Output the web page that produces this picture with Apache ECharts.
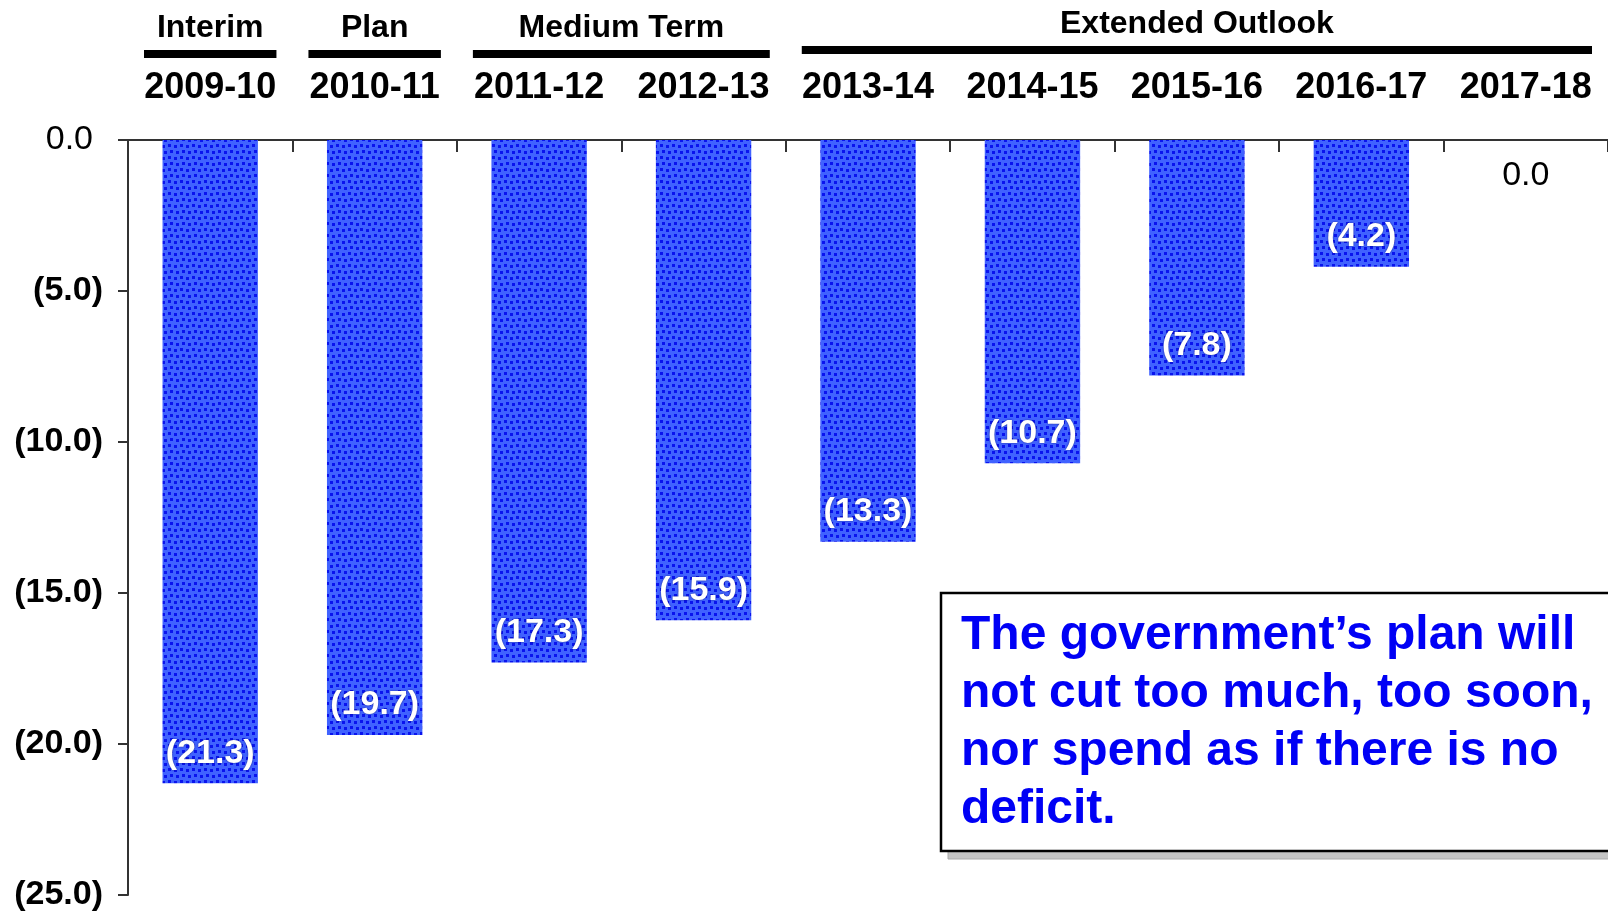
<!DOCTYPE html>
<html>
<head>
<meta charset="utf-8">
<title>Deficit outlook</title>
<script src="https://cdn.jsdelivr.net/npm/echarts@6/dist/echarts.min.js"></script>
<style>
  html, body { margin: 0; padding: 0; background: #fff; }
  #chart { width: 1608px; height: 913px; }
</style>
</head>
<body>
<div id="chart"></div>
<script>
// Fiscal years and the budget balance for each ($ billions, negative = deficit)
const years = ['2009-10', '2010-11', '2011-12', '2012-13', '2013-14', '2014-15', '2015-16', '2016-17', '2017-18'];
const balance = [-21.3, -19.7, -17.3, -15.9, -13.3, -10.7, -7.8, -4.2, 0.0];

// Period headings spanning ranges of years (first and last year index)
const groupNames = ['Interim', 'Plan', 'Medium Term', 'Extended Outlook'];
const groupStart = [0, 1, 2, 4];
const groupEnd = [0, 1, 3, 8];

// Value axis range and step
const yMin = -25;
const yMax = 0;
const yStep = 5;

const noteText = 'The government\u2019s plan will\nnot cut too much, too soon,\nnor spend as if there is no\ndeficit.';

const FONT = '"Liberation Sans", Arial, sans-serif';

// Stippled blue fill for the bars
function stippleTile() {
  const c = document.createElement('canvas');
  c.width = 12; c.height = 12;
  const g = c.getContext('2d');
  g.fillStyle = '#4062ff';
  g.fillRect(0, 0, 12, 12);
  g.fillStyle = '#0a14ee';
  g.fillRect(0, 0, 3, 3);
  g.fillRect(6, 1, 3, 3);
  g.fillRect(2, 6, 3, 3);
  g.fillRect(8, 7, 3, 3);
  return c;
}

function fmtValue(v) {
  if (v === 0) return '0.0';
  return '(' + Math.abs(v).toFixed(1) + ')';
}

const chart = echarts.init(document.getElementById('chart'), null, { renderer: 'canvas' });

const barData = balance.map(function (v) {
  if (v === 0) {
    return {
      value: v,
      label: {
        position: 'bottom',
        distance: 19,
        color: '#000',
        fontWeight: 'normal',
        textShadowBlur: 0
      }
    };
  }
  return v;
});

chart.setOption({
  animation: false,
  backgroundColor: '#fff',
  grid: { left: 128, right: 0, top: 140, bottom: 18, containLabel: false },
  xAxis: {
    type: 'category',
    position: 'top',
    data: years,
    boundaryGap: true,
    axisLine: { show: true, lineStyle: { color: '#333', width: 2 } },
    axisTick: { show: true, inside: true, length: 12, interval: 0, lineStyle: { color: '#333', width: 2 } },
    axisLabel: {
      show: true,
      interval: 0,
      margin: 34,
      color: '#000',
      fontFamily: FONT,
      fontSize: 36,
      fontWeight: 'bold'
    },
    splitLine: { show: false }
  },
  yAxis: {
    type: 'value',
    min: yMin,
    max: yMax,
    interval: yStep,
    axisLine: { show: true, lineStyle: { color: '#333', width: 2 } },
    axisTick: { show: true, length: 10, lineStyle: { color: '#333', width: 2 } },
    splitLine: { show: false },
    axisLabel: {
      margin: 25,
      color: '#000',
      fontFamily: FONT,
      fontSize: 34,
      formatter: function (v) {
        if (v === 0) return '{n|0.0}{s|}';
        return '{b|' + fmtValue(v) + '}';
      },
      rich: {
        n: { fontFamily: FONT, fontSize: 34, fontWeight: 'normal', color: '#000' },
        s: { width: 10 },
        b: { fontFamily: FONT, fontSize: 34, fontWeight: 'bold', color: '#000' }
      }
    }
  },
  series: [{
    type: 'bar',
    data: barData,
    barWidth: '58%',
    itemStyle: {
      color: { image: stippleTile(), repeat: 'repeat' }
    },
    label: {
      show: true,
      position: 'insideBottom',
      distance: 13,
      color: '#fff',
      fontFamily: FONT,
      fontSize: 34,
      fontWeight: 'bold',
      textShadowColor: 'rgba(0,0,60,0.6)',
      textShadowBlur: 2,
      formatter: function (p) { return fmtValue(p.value); }
    }
  }]
});

// Period headings with their underline bars, placed from the category axis
function drawHeadings() {
  const c0 = chart.convertToPixel({ xAxisIndex: 0 }, 0);
  const c1 = chart.convertToPixel({ xAxisIndex: 0 }, 1);
  const band = c1 - c0;
  const inset = 16;
  const elements = [];
  groupNames.forEach(function (name, i) {
    const x1 = chart.convertToPixel({ xAxisIndex: 0 }, groupStart[i]) - band / 2 + inset;
    const x2 = chart.convertToPixel({ xAxisIndex: 0 }, groupEnd[i]) + band / 2 - inset;
    const lift = (groupEnd[i] - groupStart[i] > 2) ? 4 : 0;
    elements.push({
      type: 'rect',
      shape: { x: x1, y: 50 - lift, width: x2 - x1, height: 8 },
      style: { fill: '#000' },
      silent: true
    });
    elements.push({
      type: 'text',
      x: (x1 + x2) / 2,
      y: 28 - lift,
      style: {
        text: name,
        fill: '#000',
        font: 'bold 32px ' + FONT,
        align: 'center',
        verticalAlign: 'middle'
      },
      silent: true
    });
  });

  // Note box with drop shadow strip
  elements.push({
    type: 'rect',
    shape: { x: 948, y: 851, width: 700, height: 8 },
    style: { fill: '#c4c4c4', stroke: '#aaaaaa', lineWidth: 1 },
    silent: true
  });
  elements.push({
    type: 'rect',
    shape: { x: 941, y: 593, width: 720, height: 258 },
    style: { fill: '#fff', stroke: '#000', lineWidth: 2.5 },
    silent: true
  });
  elements.push({
    type: 'text',
    x: 961,
    y: 607,
    style: {
      text: noteText,
      fill: '#0000f5',
      font: 'bold 48px ' + FONT,
      lineHeight: 58,
      align: 'left',
      verticalAlign: 'top'
    },
    silent: true
  });

  chart.setOption({ graphic: { elements: elements } });
}
drawHeadings();
</script>
</body>
</html>
